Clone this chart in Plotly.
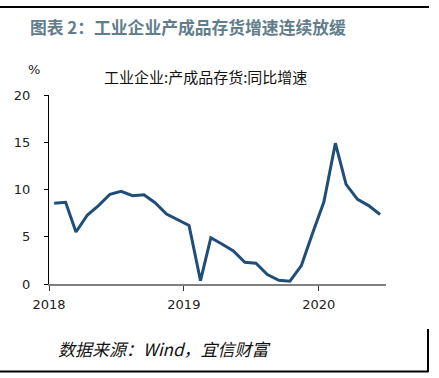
import plotly.graph_objects as go

dates = [
    "2018-01-15", "2018-02-15", "2018-03-15", "2018-04-15", "2018-05-15", "2018-06-15",
    "2018-07-15", "2018-08-15", "2018-09-15", "2018-10-15", "2018-11-15", "2018-12-15",
    "2019-01-15", "2019-02-15", "2019-03-15", "2019-04-15", "2019-05-15", "2019-06-15",
    "2019-07-15", "2019-08-15", "2019-09-15", "2019-10-15", "2019-11-15", "2019-12-15",
    "2020-01-15", "2020-02-15", "2020-03-15", "2020-04-15", "2020-05-15", "2020-06-15",
]
values = [
    8.55, 8.65, 5.5, 7.3, 8.3, 9.5, 9.8, 9.35, 9.45, 8.6, 7.4, 6.8,
    6.2, 0.35, 4.9, 4.2, 3.5, 2.3, 2.2, 1.0, 0.4, 0.3, 1.95, 5.35,
    8.7, 14.9, 10.55, 8.95, 8.3, 7.35,
]
x_tickvals = ["2018-01-01", "2019-01-01", "2020-01-01"]
x_ticktext = ["2018", "2019", "2020"]
y_tickvals = [0, 5, 10, 15, 20]

title_text = "图表 2：工业企业产成品存货增速连续放缓"
series_name = "工业企业:产成品存货:同比增速"
unit_text = "%"
source_text = "数据来源：Wind，宜信财富"

CJK = "Noto Sans CJK SC"
NUM = "DejaVu Sans"

W, H = 439, 378
L, R, T, B = 49, 53, 95, 94
pw, ph = W - L - R, H - T - B

def px(x):
    return (x - L) / pw

def py(y):
    return (H - B - y) / ph

fig = go.Figure()
fig.add_trace(go.Scatter(
    x=dates, y=values, mode="lines",
    line=dict(color="#1f4e79", width=3),
    name=series_name, showlegend=False,
))

fig.update_layout(
    width=W, height=H,
    margin=dict(l=L, r=R, t=T, b=B),
    paper_bgcolor="white", plot_bgcolor="white",
    xaxis=dict(
        type="date", range=["2018-01-01", "2020-07-01"],
        tickvals=x_tickvals, ticktext=x_ticktext,
        showgrid=False, zeroline=False,
        showline=True, linecolor="#808080", linewidth=2,
        ticks="outside", ticklen=5, tickcolor="#333333", tickwidth=1,
        tickfont=dict(family=NUM, size=13, color="#222222"),
        ticklabelstandoff=2,
    ),
    yaxis=dict(
        range=[0, 20], tickvals=y_tickvals,
        showgrid=False, zeroline=False,
        showline=True, linecolor="#000000", linewidth=1,
        ticks="outside", ticklen=4, tickcolor="#000000", tickwidth=1,
        tickfont=dict(family=NUM, size=13, color="#222222"),
        ticklabelstandoff=11,
    ),
)

fig.add_annotation(text="<b>" + title_text + "</b>", x=px(28), y=py(27),
                   xref="paper", yref="paper", xanchor="left", yanchor="middle",
                   showarrow=False, font=dict(family=CJK, size=16.8, color="#617d8c"))
fig.add_annotation(text=series_name, x=px(205.5), y=py(76),
                   xref="paper", yref="paper", xanchor="center", yanchor="middle",
                   showarrow=False, font=dict(family=CJK, size=15, color="#111111"))
fig.add_annotation(text=unit_text, x=px(34), y=py(70),
                   xref="paper", yref="paper", xanchor="center", yanchor="middle",
                   showarrow=False, font=dict(family=NUM, size=13, color="#222222"))
fig.add_annotation(text="<i>" + source_text + "</i>", x=px(56), y=py(348),
                   xref="paper", yref="paper", xanchor="left", yanchor="middle",
                   showarrow=False, font=dict(family=CJK, size=17, color="#111111"))

# Top rule, drawn as an arrow-less annotation line (pixel offset) and as a shape
fig.add_annotation(text=" ", x=px(429), y=py(7), xref="paper", yref="paper",
                   showarrow=True, arrowhead=0, arrowwidth=2, arrowcolor="#000000",
                   ax=-429, ay=0, axref="pixel", ayref="pixel", standoff=0, startstandoff=0,
                   font=dict(size=1))
fig.add_shape(type="line", xref="paper", yref="paper", layer="above",
              x0=px(0), x1=px(429), y0=py(7), y1=py(7),
              line=dict(color="#000000", width=2))
fig.add_shape(type="line", xref="paper", yref="paper", layer="above",
              x0=px(0), x1=px(428.5), y0=py(371.5), y1=py(371.5),
              line=dict(color="#000000", width=2))
fig.add_shape(type="line", xref="paper", yref="paper", layer="above",
              x0=px(428), x1=px(428), y0=py(329), y1=py(372),
              line=dict(color="#000000", width=2))

fig.write_html("out.html", config={"displayModeBar": False},
               post_script="document.body.style.margin='0';")
